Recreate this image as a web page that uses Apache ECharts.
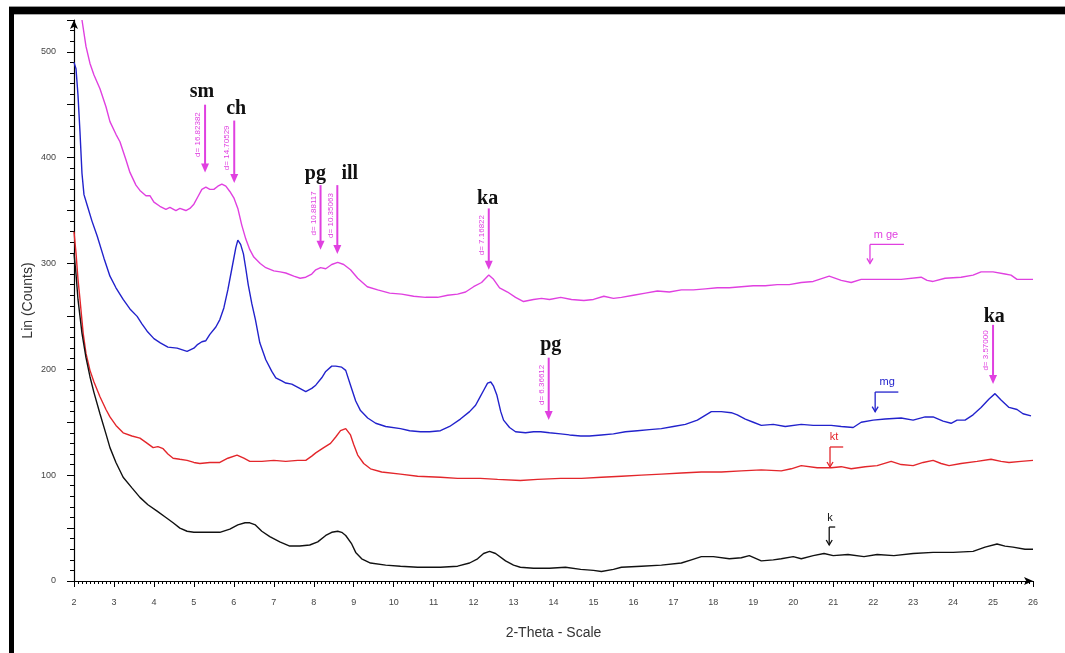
<!DOCTYPE html>
<html>
<head>
<meta charset="utf-8">
<script src="https://cdn.jsdelivr.net/npm/echarts@6/dist/echarts.min.js"></script>
<style>html,body{margin:0;padding:0;background:#fff;}#c{width:1065px;height:653px;}</style>
</head>
<body>
<div id="c"></div>
<script>
// ---- data: [2-theta, counts] ----
var magenta = [[2.2,530],[2.3,505],[2.4,489],[2.5,478],[2.65,465],[2.8,448],[2.9,434],[3.05,422],[3.15,415],[3.3,398],[3.4,386],[3.55,374],[3.65,369],[3.8,364],[3.9,364],[4.0,358],[4.15,354],[4.3,351],[4.4,353],[4.55,350],[4.65,352],[4.8,350],[4.9,352],[5.0,356],[5.1,363],[5.2,370],[5.3,372],[5.4,370],[5.5,370],[5.6,373],[5.7,375],[5.8,373],[5.9,368],[6.0,362],[6.1,352],[6.2,336],[6.3,323],[6.4,313],[6.5,306],[6.66,300],[6.8,296],[7.0,293],[7.16,292],[7.3,291],[7.5,288],[7.66,286],[7.8,287],[7.95,290],[8.05,294],[8.17,296],[8.3,295],[8.45,299],[8.6,301],[8.75,299],[8.92,294],[9.1,286],[9.34,278],[9.6,275],[9.9,272],[10.2,271],[10.5,269],[10.8,268],[11.1,268],[11.35,270],[11.6,271],[11.8,273],[12.0,278],[12.2,282],[12.38,289],[12.5,285],[12.65,277],[12.85,273],[13.05,268],[13.25,264],[13.5,266],[13.7,267],[13.9,266],[14.18,268],[14.45,266],[14.76,265],[15.0,266],[15.26,269],[15.5,267],[15.7,268],[16.0,270],[16.3,272],[16.6,274],[16.9,273],[17.2,275],[17.5,275],[17.8,276],[18.1,277],[18.4,277],[18.7,278],[19.0,279],[19.3,279],[19.6,280],[19.9,280],[20.2,282],[20.5,283],[20.9,288],[21.2,284],[21.45,282],[21.7,285],[22.2,285],[22.7,285],[23.2,287],[23.35,284],[23.5,283],[23.8,286],[24.2,287],[24.5,289],[24.7,292],[25.0,292],[25.3,290],[25.45,289],[25.6,285],[26.0,285]];
var blue = [[2.0,490],[2.05,484],[2.1,459],[2.15,424],[2.2,385],[2.25,365],[2.33,355],[2.45,340],[2.58,326],[2.75,305],[2.9,288],[3.05,277],[3.23,266],[3.4,257],[3.58,250],[3.7,243],[3.83,236],[4.0,229],[4.16,225],[4.35,221],[4.58,220],[4.83,217],[5.0,220],[5.08,223],[5.2,226],[5.3,227],[5.4,233],[5.55,240],[5.65,247],[5.75,258],[5.85,275],[5.95,295],[6.05,315],[6.1,322],[6.17,318],[6.24,309],[6.3,295],[6.36,280],[6.45,262],[6.54,247],[6.65,225],[6.8,209],[6.95,198],[7.05,192],[7.2,189],[7.3,187],[7.45,186],[7.65,182],[7.8,179],[7.95,182],[8.05,185],[8.2,192],[8.3,198],[8.45,203],[8.55,203],[8.7,202],[8.8,199],[8.92,185],[9.05,170],[9.17,161],[9.35,154],[9.55,149],[9.8,146],[10.17,144],[10.4,142],[10.67,141],[10.9,141],[11.17,142],[11.4,146],[11.67,153],[11.9,160],[12.05,166],[12.15,173],[12.25,180],[12.35,187],[12.43,188],[12.5,184],[12.58,176],[12.68,160],[12.75,152],[12.9,145],[13.05,141],[13.3,140],[13.5,141],[13.68,141],[13.9,140],[14.18,139],[14.4,138],[14.68,137],[14.9,137],[15.2,138],[15.5,139],[15.8,141],[16.1,142],[16.4,143],[16.7,144],[17.0,146],[17.3,148],[17.6,152],[17.95,160],[18.2,160],[18.45,159],[18.6,157],[18.8,153],[19.0,150],[19.2,147],[19.5,148],[19.8,146],[20.2,148],[20.5,147],[20.95,147],[21.2,146],[21.5,145],[21.7,150],[22.0,152],[22.3,153],[22.7,154],[23.0,152],[23.3,155],[23.5,155],[23.75,151],[23.95,149],[24.1,152],[24.3,152],[24.5,157],[24.7,164],[24.9,172],[25.05,177],[25.2,171],[25.4,164],[25.6,162],[25.75,158],[25.95,156]];
var red = [[2.0,330],[2.05,310],[2.1,285],[2.15,266],[2.23,234],[2.3,215],[2.4,199],[2.5,188],[2.65,174],[2.8,162],[2.9,155],[3.05,147],[3.23,140],[3.45,137],[3.65,135],[3.8,131],[3.98,126],[4.1,127],[4.23,125],[4.35,120],[4.48,116],[4.65,115],[4.83,114],[5.0,112],[5.15,111],[5.4,112],[5.65,112],[5.85,116],[6.08,119],[6.25,116],[6.4,113],[6.7,113],[7.0,114],[7.3,113],[7.6,114],[7.8,114],[7.95,118],[8.05,121],[8.25,126],[8.42,130],[8.55,136],[8.67,142],[8.8,144],[8.92,138],[9.0,129],[9.1,119],[9.25,111],[9.42,106],[9.7,103],[10.17,101],[10.6,99],[11.17,98],[11.6,97],[12.17,97],[12.6,96],[13.17,95],[13.6,96],[14.18,97],[14.7,97],[15.2,98],[15.7,99],[16.2,100],[16.7,101],[17.2,102],[17.7,103],[18.2,103],[18.7,104],[19.2,105],[19.7,104],[19.95,106],[20.2,109],[20.6,107],[20.95,107],[21.2,108],[21.45,106],[21.8,108],[22.1,109],[22.45,113],[22.7,110],[23.0,109],[23.25,112],[23.5,114],[23.7,111],[23.9,109],[24.2,111],[24.6,113],[24.95,115],[25.2,113],[25.4,112],[25.7,113],[26.0,114]];
var black = [[2.0,310],[2.05,290],[2.1,266],[2.2,234],[2.3,211],[2.4,193],[2.5,178],[2.65,158],[2.8,139],[2.9,126],[3.05,112],[3.23,98],[3.45,88],[3.65,79],[3.85,72],[4.08,66],[4.3,60],[4.48,55],[4.65,50],[4.83,47],[5.0,46],[5.15,46],[5.4,46],[5.65,46],[5.9,49],[6.1,53],[6.28,55],[6.4,55],[6.54,53],[6.7,47],[6.9,42],[7.15,37],[7.4,33],[7.65,33],[7.9,34],[8.1,37],[8.3,43],[8.45,46],[8.6,47],[8.7,46],[8.8,43],[8.95,35],[9.05,27],[9.2,21],[9.42,17],[9.8,15],[10.17,14],[10.6,13],[11.17,13],[11.6,14],[11.9,17],[12.1,21],[12.25,26],[12.4,28],[12.55,26],[12.8,19],[13.0,15],[13.17,13],[13.5,12],[13.9,12],[14.3,13],[14.68,11],[15.0,10],[15.2,9],[15.5,11],[15.7,13],[16.2,14],[16.7,15],[17.2,17],[17.45,20],[17.7,23],[18.0,23],[18.4,21],[18.7,22],[18.9,24],[19.2,19],[19.5,20],[19.7,21],[20.0,23],[20.2,21],[20.5,24],[20.77,26],[21.0,24],[21.37,25],[21.77,23],[22.1,25],[22.52,24],[23.0,26],[23.5,27],[24.0,27],[24.5,28],[24.8,32],[25.1,35],[25.3,33],[25.5,32],[25.8,30],[26.0,30]];

// peak annotations (data units)
var peakNames  = ['sm','ch','pg','ill','ka','pg','ka'];
var peakLabelX = [5.2, 6.06, 8.04, 8.9, 12.35, 13.93, 25.03];
var peakLabelY = [462, 446, 385, 385, 361, 223, 250];
var peakArrowX = [5.28, 6.01, 8.17, 8.59, 12.38, 13.88, 25.0];
var peakArrowTop = [450, 435, 374, 374, 352, 211, 242];
var peakArrowEnd = [386, 376, 313, 309, 294, 152, 186];
var peakD = ['d= 16.82382','d= 14.70529','d= 10.88117','d= 10.35063','d= 7.16822','d= 6.36612','d= 3.57000'];

// bent-arrow markers (data units)
var markNames = ['m ge','mg','kt','k'];
var markX     = [21.92, 22.05, 20.92, 20.9];
var markX2    = [22.77, 22.63, 21.25, 21.05];
var markTop   = [318, 178.5, 126.6, 51];
var markEnd   = [300, 160, 107.7, 34];
var markTextX = [22.32, 22.35, 21.02, 20.92];
var markTextY = [327, 188, 136, 60];

var cMag = '#e040e0', cBlue = '#2222cc', cRed = '#e3262b', cBlack = '#111111';
var markColors = [cMag, cBlue, cRed, cBlack];

var chart = echarts.init(document.getElementById('c'), null, {renderer:'canvas'});
var tickFont = {fontFamily:'Liberation Sans', fontSize:9, color:'#444'};
function ser(name, data, color){
  return {name:name, type:'line', data:data, symbol:'none', smooth:false, animation:false,
    lineStyle:{color:color, width:1.4}, z:3};
}
chart.setOption({
  animation:false,
  backgroundColor:'#fff',
  grid:{left:74, right:32, top:20, bottom:72},
  xAxis:{type:'value', min:2, max:26, interval:1,
    name:'2-Theta - Scale', nameLocation:'middle', nameGap:45, nameMoveOverlap:false,
    nameTextStyle:{fontFamily:'Liberation Sans', fontSize:14, color:'#333'},
    axisLine:{show:true, onZero:false, lineStyle:{color:'#000', width:1.2}, symbol:['none','arrow'], symbolSize:[6,9]},
    axisTick:{show:true, length:6, lineStyle:{color:'#000'}},
    minorTick:{show:true, splitNumber:10, length:3, lineStyle:{color:'#000'}},
    axisLabel:Object.assign({margin:17}, tickFont),
    splitLine:{show:false}},
  yAxis:{type:'value', min:0, max:530, interval:50,
    name:'Lin (Counts)', nameLocation:'middle', nameGap:39, nameRotate:90, nameMoveOverlap:false,
    nameTextStyle:{fontFamily:'Liberation Sans', fontSize:14, color:'#333'},
    axisLine:{show:true, onZero:false, lineStyle:{color:'#000', width:1.2}, symbol:['none','arrow'], symbolSize:[6,9]},
    axisTick:{show:true, length:7, lineStyle:{color:'#000'}},
    minorTick:{show:true, splitNumber:5, length:4, lineStyle:{color:'#000'}},
    axisLabel:Object.assign({margin:18, formatter:function(v){return (v%100===0 && v<=500)? String(v):'';}}, tickFont),
    splitLine:{show:false}},
  series:[ser('mge',magenta,cMag), ser('mg',blue,cBlue), ser('kt',red,cRed), ser('k',black,cBlack)]
});

function px(x,y){return chart.convertToPixel({gridIndex:0},[x,y]);}
var g = [];
// frame
g.push({type:'rect', shape:{x:9,y:7,width:1056,height:7}, style:{fill:'#000'}, z:10});
g.push({type:'rect', shape:{x:9,y:6,width:1056,height:1}, style:{fill:'#999'}, z:10});
g.push({type:'rect', shape:{x:9,y:14,width:1056,height:1}, style:{fill:'#aaa'}, z:10});
g.push({type:'rect', shape:{x:9,y:7,width:5,height:646}, style:{fill:'#000'}, z:10});

function arrowDown(x, y1, y2, color, lw, hw, hh){
  g.push({type:'line', shape:{x1:x,y1:y1,x2:x,y2:y2-hh+1}, style:{stroke:color, lineWidth:lw}, z:6});
  g.push({type:'polygon', shape:{points:[[x-hw,y2-hh],[x+hw,y2-hh],[x,y2]]}, style:{fill:color}, z:6});
}
for (var i=0;i<peakNames.length;i++){
  var a = px(peakArrowX[i], peakArrowTop[i]), b = px(peakArrowX[i], peakArrowEnd[i]);
  arrowDown(a[0], a[1], b[1], cMag, 2, 4, 9);
  var l = px(peakLabelX[i], peakLabelY[i]);
  g.push({type:'text', x:l[0], y:l[1], style:{text:peakNames[i], fill:'#111', font:'bold 20px "Liberation Serif"', align:'center', verticalAlign:'middle'}, z:7});
  var tx = a[0]-7, ty = (a[1]+b[1])/2 - 4;
  g.push({type:'text', x:tx, y:ty, rotation:Math.PI/2, style:{text:peakD[i], fill:cMag, font:'8px "Liberation Sans"', align:'center', verticalAlign:'middle'}, z:7});
}
for (var j=0;j<markNames.length;j++){
  var p1 = px(markX[j], markTop[j]), p2 = px(markX2[j], markTop[j]), p3 = px(markX[j], markEnd[j]);
  g.push({type:'line', shape:{x1:p1[0],y1:p1[1],x2:p2[0],y2:p2[1]}, style:{stroke:markColors[j], lineWidth:1.3}, z:6});
  g.push({type:'line', shape:{x1:p1[0],y1:p1[1],x2:p3[0],y2:p3[1]}, style:{stroke:markColors[j], lineWidth:1.3}, z:6});
  g.push({type:'polyline', shape:{points:[[p3[0]-3,p3[1]-5],[p3[0],p3[1]],[p3[0]+3,p3[1]-5]]}, style:{stroke:markColors[j], lineWidth:1.3, fill:null}, z:6});
  var t = px(markTextX[j], markTextY[j]);
  g.push({type:'text', x:t[0], y:t[1], style:{text:markNames[j], fill:markColors[j], font:'11px "Liberation Sans"', align:'center', verticalAlign:'middle'}, z:7});
}
chart.setOption({graphic:g});
</script>
</body>
</html>
